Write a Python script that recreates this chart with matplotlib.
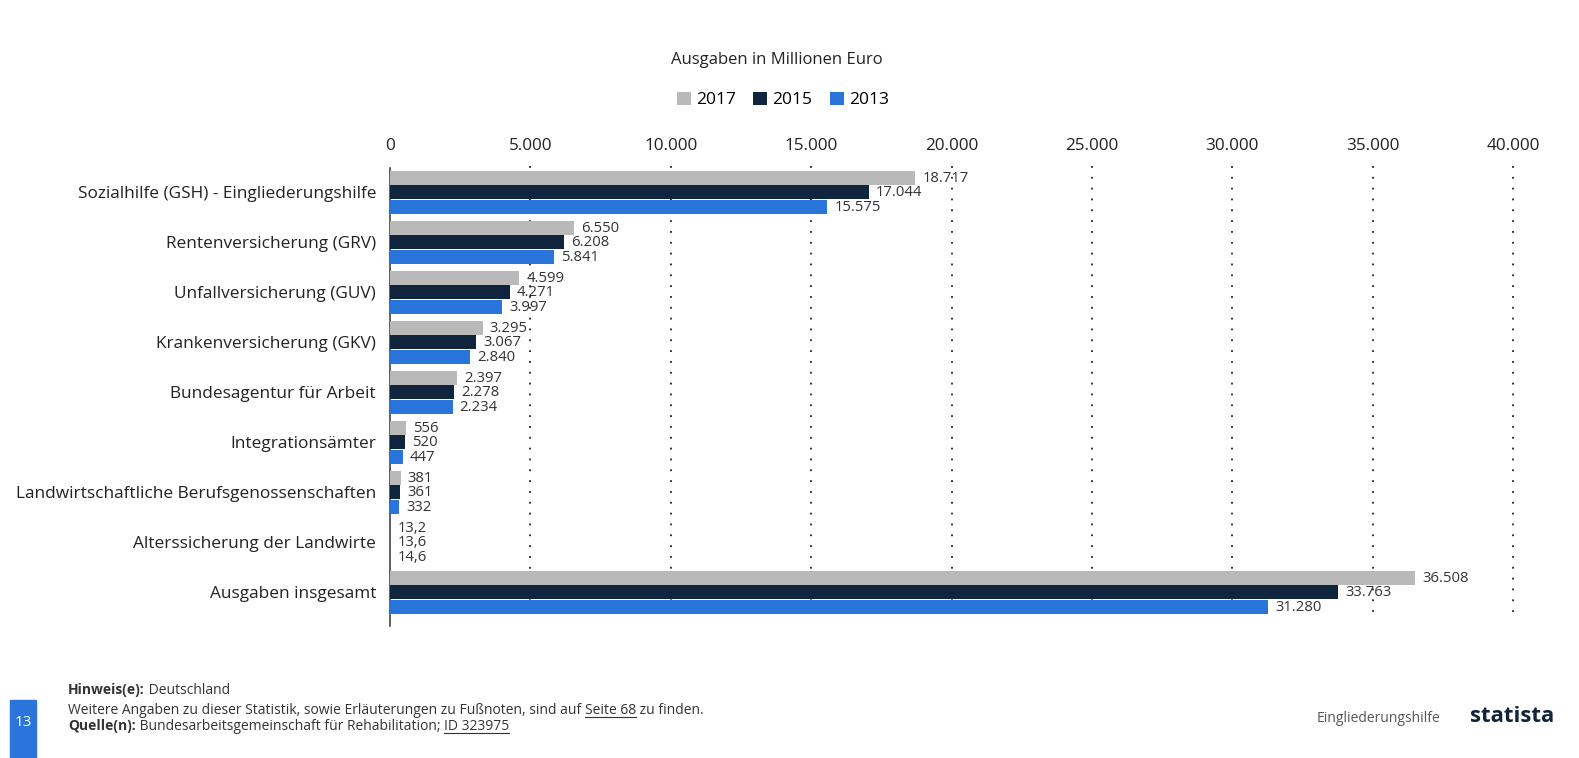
import matplotlib.pyplot as plt
import numpy as np
from matplotlib.patches import Rectangle
from matplotlib.lines import Line2D

plt.rcParams['font.family'] = ['Open Sans', 'DejaVu Sans']

categories = ["Sozialhilfe (GSH) - Eingliederungshilfe", "Rentenversicherung (GRV)",
              "Unfallversicherung (GUV)", "Krankenversicherung (GKV)",
              "Bundesagentur für Arbeit", "Integrationsämter",
              "Landwirtschaftliche Berufsgenossenschaften",
              "Alterssicherung der Landwirte", "Ausgaben insgesamt"]
v2017 = [18717, 6550, 4599, 3295, 2397, 556, 381, 13.2, 36508]
v2015 = [17044, 6208, 4271, 3067, 2278, 520, 361, 13.6, 33763]
v2013 = [15575, 5841, 3997, 2840, 2234, 447, 332, 14.6, 31280]
years = ["2017", "2015", "2013"]
colors = ["#b9b9b9", "#10243d", "#2a75dc"]
xticks = [0, 5000, 10000, 15000, 20000, 25000, 30000, 35000, 40000]


def fmt(v):
    if v >= 100 or v == 0:
        return f"{v:,.0f}".replace(",", ".")
    return f"{v:.1f}".replace(".", ",")


fig = plt.figure(figsize=(15.79, 7.58), dpi=100)
ax = fig.add_axes([390 / 1579, 1 - 626 / 758, (1513 - 390) / 1579, (626 - 168) / 758])

y = np.arange(len(categories))
h = 0.28
off = 0.29
for i, (vals, col) in enumerate(zip([v2017, v2015, v2013], colors)):
    pos = y + (i - 1) * off
    ax.barh(pos, vals, height=h, color=col, label=years[i], zorder=3)
    for p, v in zip(pos, vals):
        ax.text(v + 250, p + 0.02, fmt(v), va="center", ha="left",
                fontsize=10.7, color="#333333", zorder=4)

ax.set_xlim(0, 40000)
ax.set_ylim(8.68, -0.48)
ax.set_yticks(y)
ax.set_yticklabels(categories, fontsize=12.4, color="#222222")
ax.xaxis.tick_top()
ax.set_xticks(xticks)
ax.set_xticklabels([fmt(t) for t in xticks], fontsize=12.3, color="#222222")
ax.tick_params(axis="both", length=0, pad=10)
for xt in xticks[1:]:
    ax.axvline(xt, color="#222222", linestyle=(0, (1, 5)), linewidth=1.3, zorder=1,
               ymin=0.03, ymax=1.02, clip_on=False)
for s in ["top", "right", "bottom"]:
    ax.spines[s].set_visible(False)
ax.spines["left"].set_color("#444444")
ax.spines["left"].set_linewidth(1.2)

fig.text(777 / 1579, 1 - 60 / 758, "Ausgaben in Millionen Euro", ha="center",
         va="center", fontsize=12, color="#222222")
leg = fig.legend(loc="center", bbox_to_anchor=(783 / 1579, 1 - 100 / 758), ncol=3,
                 frameon=False, fontsize=12.5, handlelength=0.8, handleheight=0.8,
                 handletextpad=0.3, columnspacing=1.0)

# footer
fig.patches.append(Rectangle((10 / 1579, 0), 26 / 1579, 58 / 758, transform=fig.transFigure,
                             color="#2a75dc", zorder=0))
fig.text(23 / 1579, 1 - 722 / 758, "13", ha="center", va="center", color="white", fontsize=11)
fig.text(1440 / 1579, 1 - 718 / 758, "Eingliederungshilfe", fontsize=10, color="#555555",
         va="center", ha="right")
fig.text(1470 / 1579, 1 - 716 / 758, "statista", fontsize=16, color="#10243d", va="center",
         ha="left", fontweight="bold")

fs = 10
tc = "#333333"
# each footer line: list of (text, bold, underline), baseline in pixels from top
footer_lines = [
    (694, [("Hinweis(e):", True, False), (" Deutschland", False, False)]),
    (714, [("Weitere Angaben zu dieser Statistik, sowie Erläuterungen zu Fußnoten, sind auf ",
            False, False), ("Seite 68", False, True), (" zu finden.", False, False)]),
    (730, [("Quelle(n):", True, False),
           (" Bundesarbeitsgemeinschaft für Rehabilitation; ", False, False),
           ("ID 323975", False, True)]),
]
r = fig.canvas.get_renderer()
for base, parts in footer_lines:
    x = 68
    for txt, bold, ul in parts:
        t = fig.text(x / 1579, 1 - base / 758, txt, fontsize=fs, color=tc, va="baseline",
                     fontweight="bold" if bold else "normal")
        bb = t.get_window_extent(r)
        if ul:
            yy = (758 - base - 2.5) / 758
            fig.add_artist(Line2D([bb.x0 / 1579, bb.x1 / 1579], [yy, yy],
                                  transform=fig.transFigure, color=tc, linewidth=0.8))
        x = bb.x1

fig.savefig("out.png", dpi=100, facecolor="white")
